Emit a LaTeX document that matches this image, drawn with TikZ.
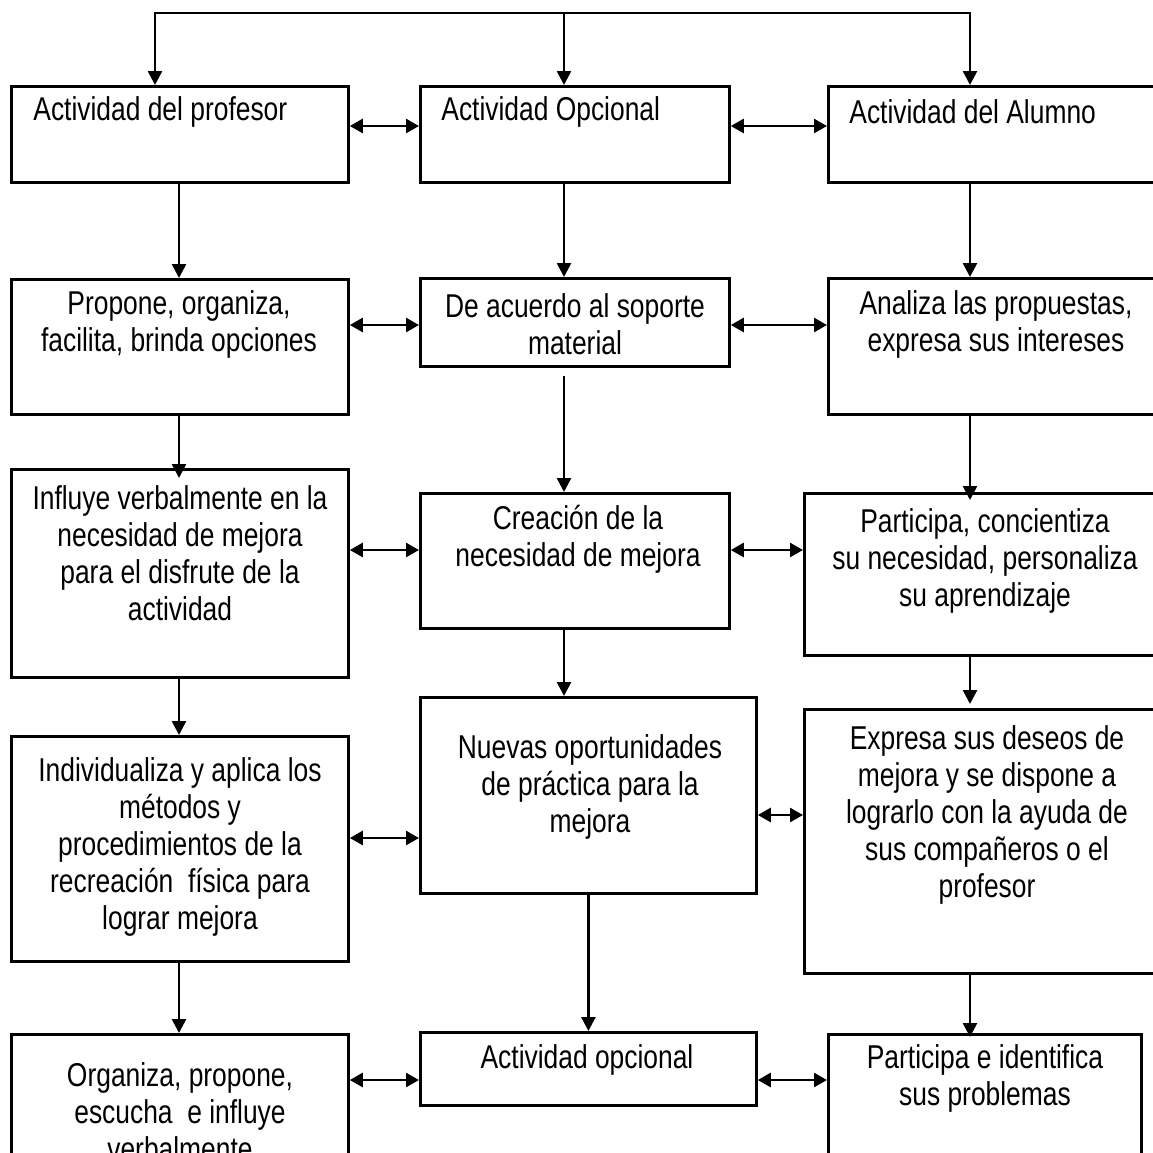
\documentclass[tikz,border=0pt]{standalone}
\usepackage{fontspec}
\setmainfont{Liberation Sans}[FakeStretch=0.8]
\usetikzlibrary{arrows.meta, positioning, calc}

\begin{document}
\begin{tikzpicture}[x=0.5pt, y=-0.5pt,
        box/.style={draw, line width=1.4pt, anchor=north west, inner sep=0pt},
        dims/.style 2 args={minimum width=#1*0.5pt, minimum height=#2*0.5pt},
        txt/.style={align=center, inner sep=0pt, font=\fontsize{16.5}{18.5}\selectfont},
        arr/.style={-{Triangle[length=7pt,width=7pt]}, line width=1.3pt},
        dbl/.style={{Triangle[length=6.5pt,width=7pt]}-{Triangle[length=6.5pt,width=7pt]}, line width=1.3pt}]
            \useasboundingbox (0,0) rectangle (1153,1153);
            \clip (0,0) rectangle (1153,1153);

            % columna del profesor
            \node[box, dims={337}{96}]  (A1) at (10,85) {};
            \node[box, dims={337}{135}] (A2) at (10,278) {};
            \node[box, dims={337}{208}] (A3) at (10,468) {};
            \node[box, dims={337}{225}] (A4) at (10,735) {};
            \node[box, dims={337}{150}] (A5) at (10,1033) {};

            % columna opcional
            \node[box, dims={309}{96}]  (B1) at (419,85) {};
            \node[box, dims={309}{88}]  (B2) at (419,277) {};
            \node[box, dims={309}{135}] (B3) at (419,492) {};
            \node[box, dims={336}{196}] (B4) at (419,696) {};
            \node[box, dims={336}{73}]  (B5) at (419,1031) {};

            % columna del alumno
            \node[box, dims={360}{96}]  (C1) at (827,85) {};
            \node[box, dims={360}{136}] (C2) at (827,277) {};
            \node[box, dims={384}{162}] (C3) at (803,492) {};
            \node[box, dims={384}{264}] (C4) at (803,708) {};
            \node[box, dims={313}{150}] (C5) at (827,1033) {};

            % textos
            \node[txt, anchor=west] (tA1) at (33,112) {Actividad del profesor};
            \node[txt, anchor=west] (tB1) at (441,112) {Actividad Opcional};
            \node[txt, anchor=west] (tC1) at (849,112) {Actividad del Alumno};

            \node[txt] (tA2) at (179,324.5) {Propone, organiza,\\facilita, brinda opciones};
            \node[txt] (tB2) at (575,324) {De acuerdo al soporte\\material};
            \node[txt] (tC2) at (996,324) {Analiza las propuestas,\\expresa sus intereses};

            \node[txt] (tA3) at (180,553.5) {Influye verbalmente en la\\necesidad de mejora\\para el disfrute de la\\actividad};
            \node[txt] (tB3) at (578,539) {Creación de la\\necesidad de mejora};
            \node[txt] (tC3) at (985,560.5) {Participa, concientiza\\su necesidad, personaliza\\su aprendizaje};

            \node[txt] (tA4) at (180,846.5) {Individualiza y aplica los\\métodos y\\procedimientos de la\\recreación\ \ física para\\lograr mejora};
            \node[txt] (tB4) at (590,786.5) {Nuevas oportunidades\\de práctica para la\\mejora};
            \node[txt] (tC4) at (987,815) {Expresa sus deseos de\\mejora y se dispone a\\lograrlo con la ayuda de\\sus compañeros o el\\profesor};

            \node[txt] (tA5) at (180,1111.5) {Organiza, propone,\\escucha\ \ e influye\\verbalmente};
            \node[txt] (tB5) at (587,1060) {Actividad opcional};
            \node[txt] (tC5) at (985,1078.5) {Participa e identifica\\sus problemas};

            %%%%%%%%%%%%%%%%%%%%%%%%%%%%%%%%%%%%%%%%%%%%%%%%%%%%%%%%%%%%%
            % linea superior
            \coordinate (T) at (564,13);
            \draw[arr] (T) -| (A1.north -| 155,0);
            \draw[arr] (T) -- (B1.north -| 564,0);
            \draw[arr] (T) -| (C1.north -| 970,0);

            % flechas verticales
            \draw[arr] (A1.south -| 179,0) -- (A2.north -| 179,0);
            \draw[arr] (A2.south -| 179,0) -- ([yshift=-5pt]A3.north -| 179,0);
            \draw[arr] (A3.south -| 179,0) -- (A4.north -| 179,0);
            \draw[arr] (A4.south -| 179,0) -- (A5.north -| 179,0);

            \draw[arr] (B1.south -| 564,0) -- (B2.north -| 564,0);
            \draw[arr] ([yshift=-4pt]B2.south -| 564,0) -- (B3.north -| 564,0);
            \draw[arr] (B3.south -| 564,0) -- (B4.north -| 564,0);
            \draw[arr] (B4.south) -- (B5.north);

            \draw[arr] (C1.south -| 970,0) -- (C2.north -| 970,0);
            \draw[arr] (C2.south -| 970,0) -- ([yshift=-4pt]C3.north -| 970,0);
            \draw[arr] (C3.south -| 970,0) -- ([yshift=2pt]C4.north -| 970,0);
            \draw[arr] (C4.south -| 970,0) -- ([yshift=-2pt]C5.north -| 970,0);

            % flechas dobles
            \draw[dbl] (A1.east |- 0,126) -- (B1.west |- 0,126);
            \draw[dbl] (B1.east |- 0,126) -- (C1.west |- 0,126);
            \draw[dbl] (A2.east |- 0,325) -- (B2.west |- 0,325);
            \draw[dbl] (B2.east |- 0,325) -- (C2.west |- 0,325);
            \draw[dbl] (A3.east |- 0,550) -- (B3.west |- 0,550);
            \draw[dbl] (B3.east |- 0,550) -- (C3.west |- 0,550);
            \draw[dbl] (A4.east |- 0,838) -- (B4.west |- 0,838);
            \draw[dbl] (B4.east |- 0,815) -- (C4.west |- 0,815);
            \draw[dbl] (A5.east |- 0,1080) -- (B5.west |- 0,1080);
            \draw[dbl] (B5.east |- 0,1080) -- (C5.west |- 0,1080);
\end{tikzpicture}
\end{document}
